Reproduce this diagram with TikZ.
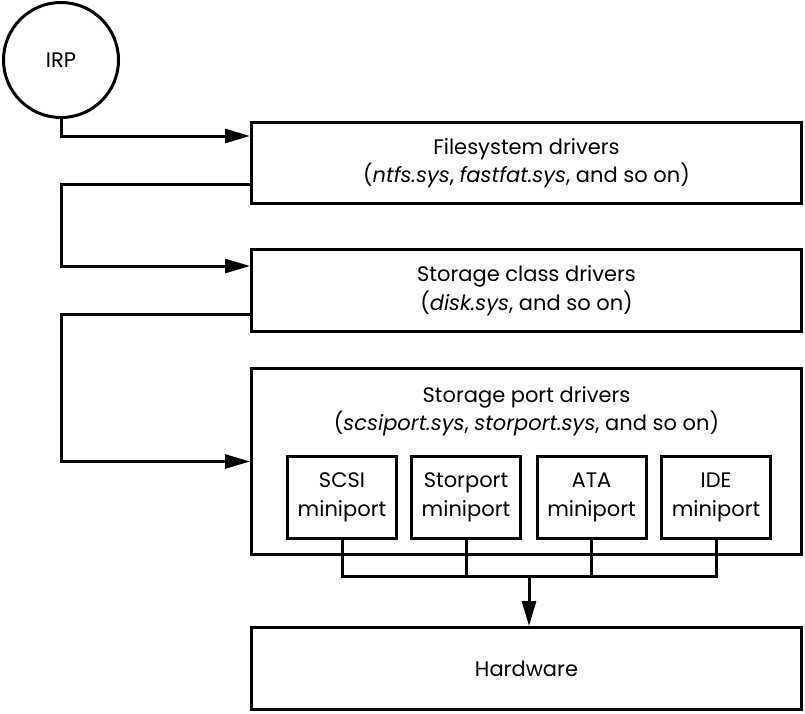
\documentclass[tikz,border=0pt]{standalone}
\usepackage{fontspec}
\setmainfont{Poppins}
\usetikzlibrary{arrows.meta}
\begin{document}
\begin{tikzpicture}[x=1pt,y=-1pt, line width=3pt,
  txt/.style={font=\fontsize{21}{28.5}\selectfont, align=center},
  box/.style={draw, rectangle, inner sep=0pt, txt},
  wide/.style={box, minimum width=550pt},
  mini/.style={box, minimum width=109pt, minimum height=82pt},
  arr/.style={-{Triangle[length=25pt,width=14pt]}}]
\useasboundingbox (0,0) rectangle (805,713);
\node[draw, circle, minimum size=115pt, inner sep=0pt, txt] (irp) at (61,60) {IRP};
\node[wide, minimum height=81pt] (fs) at (526.5,163) {Filesystem drivers\\(\textit{ntfs.sys}, \textit{fastfat.sys}, and so on)};
\node[wide, minimum height=82pt] (sc) at (526.5,290.5) {Storage class drivers\\(\textit{disk.sys}, and so on)};
\node[wide, minimum height=186pt] (port) at (526.5,461.5) {};
\node[txt] (portlbl) at (526.5,411) {Storage port drivers\\(\textit{scsiport.sys}, \textit{storport.sys}, and so on)};
\node[mini] (scsi) at (342,497.5) {SCSI\\miniport};
\node[mini] (stor) at (466,497.5) {Storport\\miniport};
\node[mini] (ata) at (591.5,497.5) {ATA\\miniport};
\node[mini] (ide) at (716,497.5) {IDE\\miniport};
\node[wide, minimum height=82pt] (hw) at (526.5,668.5) {Hardware};
\coordinate (bus) at (529,576);
% connectors
\draw[arr] (irp.south) |- ([yshift=27pt]fs.west);
\draw[arr] ([yshift=-21pt]fs.west) -- ([yshift=-21pt]fs.west -| irp.south) |- ([yshift=24.5pt]sc.west);
\draw[arr] ([yshift=-23.5pt]sc.west) -- ([yshift=-23.5pt]sc.west -| irp.south) |- (port.west);
\draw (scsi.south) -- (scsi.south |- bus) -- (ide.south |- bus) -- (ide.south);
\draw (stor.south) -- (stor.south |- bus);
\draw (ata.south) -- (ata.south |- bus);
\draw[arr] (bus) -- (bus |- hw.north);
\end{tikzpicture}
\end{document}
